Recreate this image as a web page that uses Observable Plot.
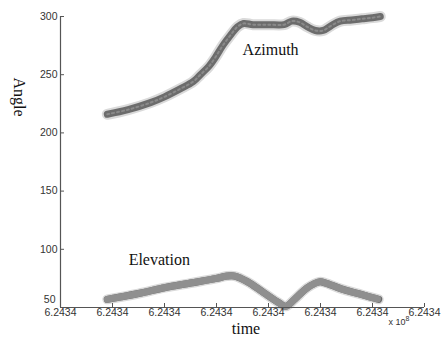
<!DOCTYPE html>
<html>
<head>
<meta charset="utf-8">
<script src="https://cdn.jsdelivr.net/npm/d3@7"></script>
<script src="https://cdn.jsdelivr.net/npm/@observablehq/plot@0.6"></script>
<style>
  html, body { margin: 0; padding: 0; background: #fff; }
  #chart { width: 442px; height: 347px; }
</style>
</head>
<body>
<div id="chart"></div>
<script>
// Time index (tick units) and angles
const azimuthT   = [0.9, 1.3, 1.73, 2.0, 2.31, 2.55, 2.69, 2.85, 2.98, 3.12, 3.27, 3.4, 3.52, 3.7, 4.0, 4.3, 4.45, 4.6, 4.75, 4.9, 5.05, 5.2, 5.38, 5.6, 5.8, 6.0, 6.15];
const azimuthVal = [216, 220, 226, 231, 238, 244, 250, 257, 265, 275, 284, 291, 294, 293, 293, 293, 296, 295, 291, 288, 288, 292, 296, 297, 298, 299, 300];
const elevationT   = [0.9, 1.5, 2.0, 2.5, 3.0, 3.2, 3.35, 3.6, 3.9, 4.2, 4.33, 4.5, 4.75, 4.98, 5.1, 5.4, 5.8, 6.12];
const elevationVal = [57, 62, 67, 71, 75, 77, 77, 72, 63, 54, 51, 57, 67, 72, 71, 66, 61, 57];
const xTicks = [0, 1, 2, 3, 4, 5, 6, 7];
const xTickLabel = "6.2434";
const yTicks = [100, 150, 200, 250, 300];
const yBottomTick = [50];
const seriesLabels = ["Azimuth", "Elevation"];
const labelT = [4.04, 1.9];
const labelVal = [271, 91];

const az = azimuthT.map((t, i) => ({t, v: azimuthVal[i]}));
const el = elevationT.map((t, i) => ({t, v: elevationVal[i]}));
const labels = seriesLabels.map((s, i) => ({s, t: labelT[i], v: labelVal[i]}));

const serif = "'Liberation Serif', 'Times New Roman', serif";
const plot = Plot.plot({
  width: 442,
  height: 347,
  marginLeft: 60,
  marginRight: 18,
  marginTop: 16,
  marginBottom: 40,
  style: {fontFamily: "'Liberation Sans', Arial, sans-serif", fontSize: "10.5px", color: "#333", background: "#fff"},
  x: {domain: [0, 7], axis: null, label: null},
  y: {domain: [50, 300], axis: null, label: null},
  marks: [
    // series
    Plot.line(az, {x: "t", y: "v", stroke: "#dadada", strokeWidth: 11, curve: "catmull-rom"}),
    Plot.line(az, {x: "t", y: "v", stroke: "#6c6c6c", strokeWidth: 7, curve: "catmull-rom"}),
    Plot.line(az, {x: "t", y: "v", stroke: "#8a8a8a", strokeWidth: 2, strokeDasharray: "2,3", curve: "catmull-rom"}),
    Plot.line(el, {x: "t", y: "v", stroke: "#dadada", strokeWidth: 10, curve: "catmull-rom"}),
    Plot.line(el, {x: "t", y: "v", stroke: "#6a6a6a", strokeWidth: 7, curve: "catmull-rom"}),
    Plot.line(el, {x: "t", y: "v", stroke: "#8f8f8f", strokeWidth: 7, strokeDasharray: "1,2", curve: "catmull-rom"}),
    // axes lines
    Plot.ruleY([50], {stroke: "#555", strokeWidth: 1.2}),
    Plot.ruleX([0], {stroke: "#555", strokeWidth: 1.2}),
    Plot.axisX({ticks: xTicks, tickSize: -4, tickPadding: 5, label: null, tickFormat: () => xTickLabel, stroke: "#555", fill: "#333"}),
    Plot.axisY({ticks: yTicks, tickSize: -4, tickPadding: 7, label: null, stroke: "#555", fill: "#333"}),
    Plot.axisY({ticks: yBottomTick, tickSize: 0, tickPadding: 5, dy: -8, label: null, stroke: "#555", fill: "#333"}),
    // series labels
    Plot.text(labels, {x: "t", y: "v", text: "s", fontFamily: serif, fontSize: 16, fill: "#111"})
  ]
});

const svg = d3.select(plot);
// Axis titles
svg.append("text")
  .attr("transform", "translate(14,97) rotate(90)")
  .attr("text-anchor", "middle")
  .attr("font-family", serif)
  .attr("font-size", 16).attr("fill", "#111")
  .text("Angle");
svg.append("text")
  .attr("x", 246).attr("y", 334)
  .attr("text-anchor", "middle")
  .attr("font-family", serif)
  .attr("font-size", 16).attr("fill", "#111")
  .text("time");
const mult = svg.append("text")
  .attr("x", 399).attr("y", 325)
  .attr("font-family", "'Liberation Sans', Arial, sans-serif")
  .attr("font-size", 9).attr("fill", "#333");
mult.append("tspan").text("x 10");
mult.append("tspan").attr("dy", -4).attr("font-size", 7).text("8");

document.getElementById("chart").appendChild(plot);
</script>
</body>
</html>
